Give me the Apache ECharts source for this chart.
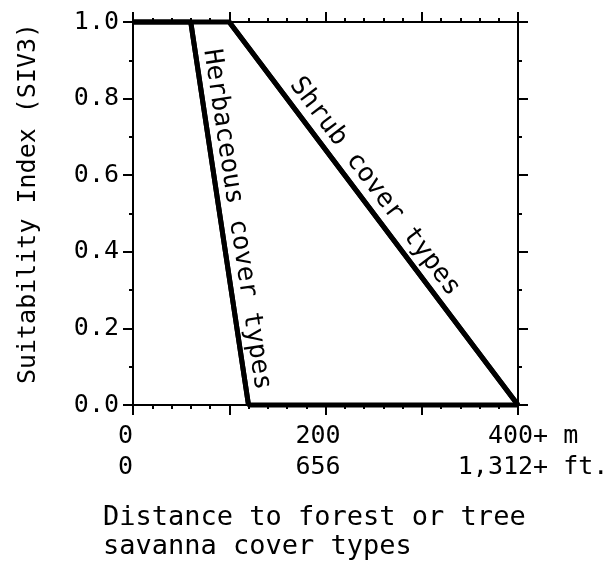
<!DOCTYPE html>
<html><head><meta charset="utf-8">
<script src="https://cdn.jsdelivr.net/npm/echarts@6/dist/echarts.min.js"></script>
<style>html,body{margin:0;padding:0;background:#fff}#c{width:615px;height:567px}</style>
</head><body><div id="c"></div>
<script>
// ---- data ----
const herbX = [0, 60, 120, 400];
const herbY = [1, 1, 0, 0];
const shrubX = [0, 100, 400];
const shrubY = [1, 1, 0];
const xLabelValues = [0, 200, 400];
const xLabelsMetres = ['0', '200', '400+ m'];
const xLabelsFeet = ['0', '656', '1,312+ ft.'];
const yAxisName = 'Suitability Index (SIV3)';
const xAxisTitle = ['Distance to forest or tree', 'savanna cover types'];
const herbLabel = 'Herbaceous cover types';
const shrubLabel = 'Shrub cover types';

// ---- styles ----
const FONT = '"DejaVu Sans Mono", "Liberation Mono", monospace';
const BLACK = '#000';
const padLeft = [' ', ' ', '  '];   // visual nudges of the label blocks
const padRight = [' ', ' ', ''];

function xFmt(v) {
  const i = xLabelValues.indexOf(v);
  if (i < 0) return '';
  return padLeft[i] === ' ' ? (xLabelsMetres[i] + '  ' ).slice(0, xLabelsMetres[i].length + 1) + '\n' + xLabelsFeet[i] + ' '
                            : padLeft[i] + xLabelsMetres[i] + '\n' + padLeft[i] + xLabelsFeet[i];
}

const baseX = {
  type: 'value', min: 0, max: 400, interval: 100,
  axisLine: { show: true, onZero: false, lineStyle: { color: BLACK, width: 2 } },
  splitLine: { show: false },
  minorTick: { show: true, splitNumber: 5, length: 4, lineStyle: { color: BLACK, width: 2 } },
  axisTick: { show: true, inside: false, length: 10, lineStyle: { color: BLACK, width: 2 } }
};
const baseY = {
  type: 'value', min: 0, max: 1, interval: 0.2,
  axisLine: { show: true, onZero: false, lineStyle: { color: BLACK, width: 2 } },
  splitLine: { show: false },
  minorTick: { show: true, splitNumber: 2, length: 4, lineStyle: { color: BLACK, width: 2 } },
  axisTick: { show: true, inside: false, length: 10, lineStyle: { color: BLACK, width: 2 } }
};

function segLine(xs, ys, i) {
  return [{ coord: [xs[i], ys[i]] }, { coord: [xs[i + 1], ys[i + 1]] }];
}

const chart = echarts.init(document.getElementById('c'), null, { renderer: 'canvas' });
chart.setOption({
  animation: false,
  backgroundColor: '#fff',
  title: {
    text: xAxisTitle.join('\n'),
    left: 103, top: 503, padding: 0,
    textStyle: { fontFamily: FONT, fontSize: 27, fontWeight: 'normal', color: BLACK, lineHeight: 29 }
  },
  grid: { left: 133, right: 97, top: 22, bottom: 162, containLabel: false },
  xAxis: [
    Object.assign({}, baseX, {
      position: 'bottom',
      axisLabel: {
        show: true, formatter: xFmt, margin: 16, showMinLabel: true, showMaxLabel: true,
        fontFamily: FONT, fontSize: 25, color: BLACK, lineHeight: 31, align: 'center'
      }
    }),
    Object.assign({}, baseX, {
      position: 'top',
      axisLabel: { show: false }
    })
  ],
  yAxis: [
    Object.assign({}, baseY, {
      position: 'left',
      name: yAxisName, nameLocation: 'middle', nameGap: 92, nameRotate: 90,
      nameTextStyle: { fontFamily: FONT, fontSize: 25, color: BLACK, padding: [0, 0, 0, 20] },
      axisLabel: {
        show: true, margin: 14, formatter: v => v.toFixed(1),
        fontFamily: FONT, fontSize: 25, color: BLACK
      }
    }),
    Object.assign({}, baseY, {
      position: 'right',
      axisLabel: { show: false }
    })
  ],
  series: [
    {
      type: 'line', name: herbLabel, xAxisIndex: 0, yAxisIndex: 0,
      data: herbX.map((x, i) => [x, herbY[i]]),
      showSymbol: false, symbol: 'none', clip: false,
      lineStyle: { color: BLACK, width: 5 },
      markLine: {
        silent: true, symbol: ['none', 'none'], animation: false,
        lineStyle: { color: BLACK, width: 5, type: 'solid' },
        label: {
          show: true, formatter: herbLabel, position: 'insideStartTop', distance: [30, 3],
          fontFamily: FONT, fontSize: 26, color: BLACK
        },
        data: [segLine(herbX, herbY, 1)]
      }
    },
    {
      type: 'line', name: shrubLabel, xAxisIndex: 0, yAxisIndex: 0,
      data: shrubX.map((x, i) => [x, shrubY[i]]),
      showSymbol: false, symbol: 'none', clip: false,
      lineStyle: { color: BLACK, width: 5 },
      markLine: {
        silent: true, symbol: ['none', 'none'], animation: false,
        lineStyle: { color: BLACK, width: 5, type: 'solid' },
        label: {
          show: true, formatter: shrubLabel, position: 'insideStartTop', distance: [86, 4],
          fontFamily: FONT, fontSize: 26, color: BLACK
        },
        data: [segLine(shrubX, shrubY, 1)]
      }
    }
  ]
});
</script>
</body></html>
